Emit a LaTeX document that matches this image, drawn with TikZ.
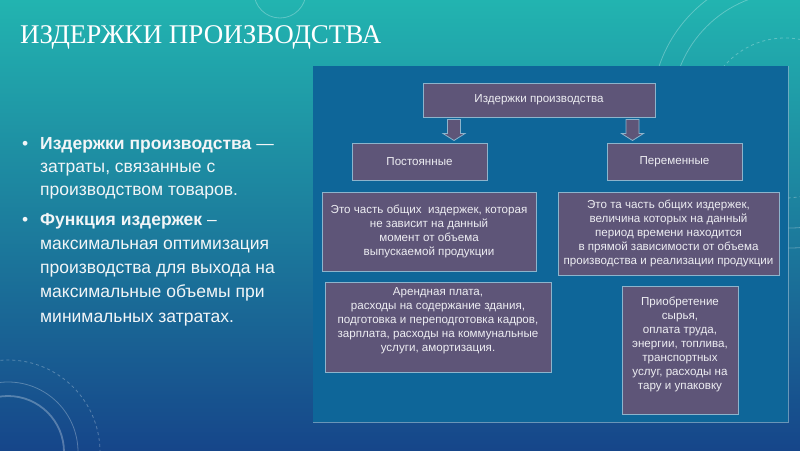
\documentclass[tikz,border=0pt]{standalone}
\usepackage{fontspec}
\setmainfont{Liberation Sans}
\newfontfamily\titlefont{Liberation Serif}
\usetikzlibrary{calc}
\definecolor{bgtop}{HTML}{22B4B0}
\definecolor{bgmid}{HTML}{1A88A8}
\definecolor{bgbot}{HTML}{16468A}
\definecolor{panelblue}{HTML}{0E6699}
\definecolor{boxfill}{HTML}{5E5578}
\definecolor{boxline}{HTML}{8DB4CC}
\definecolor{boxtext}{HTML}{EDEDF2}
\definecolor{bodytext}{HTML}{F2F5F7}
\tikzset{
  box/.style={draw=boxline, line width=1pt, fill=boxfill, text=boxtext,
    font=\fontsize{11.6}{14}\selectfont, align=center, inner sep=0pt},
  barrow/.style={draw=boxline, line width=0.8pt, fill=boxfill},
  deco/.style={draw=white, opacity=0.28, line width=0.8pt},
  pics/downarrow/.style={code={
    \draw[barrow] (-6.5,0) -- (6.5,0) -- (6.5,14) -- (11,14) -- (0,21)
      -- (-11,14) -- (-6.5,14) -- cycle;}}
}
\begin{document}
\begin{tikzpicture}[x=1pt,y=-1pt]
\shade[top color=bgtop, middle color=bgmid, bottom color=bgbot] (0,0) rectangle (800,450);
\useasboundingbox (0,0) rectangle (800,450);
% decorative circles
\begin{scope}
\clip (0,0) rectangle (800,450);
\draw[deco] (790,110) circle[radius=138];
\draw[deco] (790,110) circle[radius=118];
\draw[deco, dashed] (785,118) circle[radius=80];
\draw[deco] (280,-8) circle[radius=26];
\draw[deco, line width=1.8pt] (8,452) circle[radius=56];
\draw[deco] (8,452) circle[radius=70];
\draw[deco, dashed] (8,452) circle[radius=92];
\end{scope}
% title
\node[anchor=base west, text=white, font=\titlefont\fontsize{27}{30}\selectfont, inner sep=0pt]
  (title) at (20,43) {ИЗДЕРЖКИ ПРОИЗВОДСТВА};
% bullets
\node[anchor=north west, text=bodytext, align=left, inner sep=0pt,
  font=\fontsize{17.5}{23}\selectfont] (p1) at (22,137)
  {\makebox[18pt][l]{•}\textbf{Издержки производства} —\\
   \hspace*{18pt}затраты, связанные с\\
   \hspace*{18pt}производством товаров.};
\node[anchor=north west, text=bodytext, align=left, inner sep=0pt,
  font=\fontsize{17.5}{24.2}\selectfont] (p2) at (22,213)
  {\makebox[18pt][l]{•}\textbf{Функция издержек} –\\
   \hspace*{18pt}максимальная оптимизация\\
   \hspace*{18pt}производства для выхода на\\
   \hspace*{18pt}максимальные объемы при\\
   \hspace*{18pt}минимальных затратах.};
% panel
\fill[panelblue] (313,66) rectangle (788,422);
\draw[boxline, opacity=0.7, line width=1pt] (313,422) -- (788,422) -- (788,66);
% boxes
\node[box, minimum width=232pt, minimum height=34pt] (top) at (539,100) {Издержки производства};
\node[box, minimum width=135pt, minimum height=37pt] (const) at (419.5,161.5) {Постоянные};
\node[box, minimum width=135pt, minimum height=37pt] (var) at (674.5,161.5) {Переменные};
\node[box, minimum width=214pt, minimum height=79pt] (cdesc) at (429,231.5)
  {Это часть общих \ издержек, которая\\не зависит на данный\\момент от объема\\выпускаемой продукции};
\node[box, minimum width=221pt, minimum height=83pt] (vdesc) at (668.5,233.5)
  {Это та часть общих издержек,\\величина которых на данный\\период времени находится\\в прямой зависимости от объема\\производства и реализации продукции};
\node[box, minimum width=226pt, minimum height=90pt] (cex) at (438,327)
  {Арендная плата,\\расходы на содержание здания,\\подготовка и переподготовка кадров,\\зарплата, расходы на коммунальные\\услуги, амортизация.\\\mbox{}};
\node[box, minimum width=116pt, minimum height=128pt] (vex) at (680,350)
  {Приобретение\\сырья,\\оплата труда,\\энергии, топлива,\\транспортных\\услуг, расходы на\\тару и упаковку\\\mbox{}};
% arrows
\pic at ($(top.south)+(-85,2)$) {downarrow};
\pic at ($(top.south)+(93.5,2)$) {downarrow};
\end{tikzpicture}
\end{document}
